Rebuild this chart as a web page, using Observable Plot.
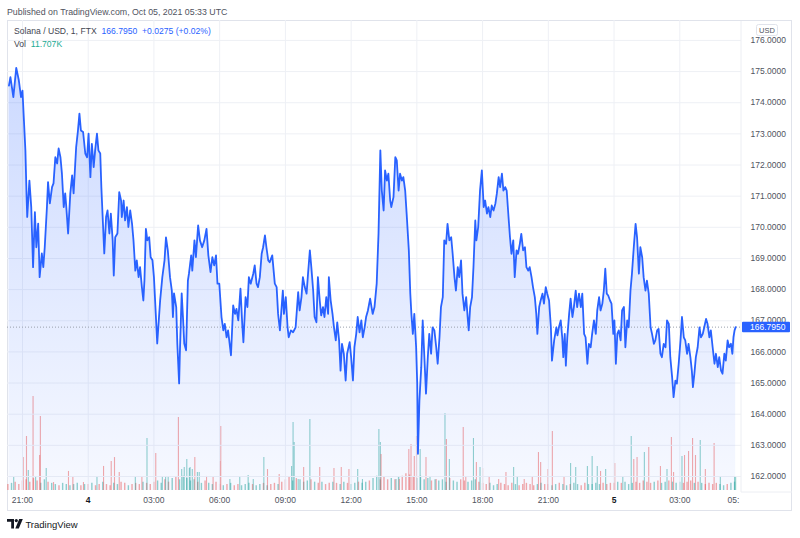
<!DOCTYPE html>
<html>
<head>
<meta charset="utf-8">
<script src="https://cdn.jsdelivr.net/npm/d3@7"></script>
<script src="https://cdn.jsdelivr.net/npm/@observablehq/plot@0.6"></script>
<style>
  html, body { margin: 0; padding: 0; background: #fff; }
  #page { position: relative; width: 800px; height: 538px; overflow: hidden; font-family: "Liberation Sans", Arial, sans-serif; }
  #page > svg { position: absolute; left: 0; top: 0; }
  .txt { position: absolute; white-space: nowrap; font-size: 8.6px; line-height: 12px; }
  #frame { position: absolute; left: 7px; top: 20px; width: 785px; height: 491px; border: 1px solid #e0e3eb; box-sizing: border-box; }
</style>
</head>
<body>
<div id="page">
  <div id="frame"></div>
</div>
<script>
// ---------- data ----------
const startUTC = Date.UTC(2021, 9, 3, 21, 0); // 2021-10-03 21:00 UTC, minutes below are offsets from it
const symbolTitle = "Solana / USD, 1, FTX";
const lastPrice = 166.795;
const lastChange = "+0.0275 (+0.02%)";
const lastVolume = "11.707K";
const publishedText = "Published on TradingView.com, Oct 05, 2021 05:33 UTC";

// [minute offset, price]
const priceSeries = [
[-37,174.55],[-33,174.82],[-25,174.18],[-17,175.12],[-10,174.72],[-4,174.18],[0,174.39],[4,173.43],[8,172.47],[11,171.09],
[13,170.33],[19,171.50],[24,170.65],[29,168.72],[34,170.49],[38,169.36],[43,170.12],[47,168.40],[53,169.16],[57,168.72],
[61,169.36],[67,170.65],[70,171.45],[75,170.77],[81,171.29],[85,171.41],[90,172.25],[95,172.05],[99,172.53],[104,172.25],
[108,171.73],[113,170.65],[117,171.09],[120,170.65],[125,169.80],[131,171.09],[136,171.67],[140,171.09],[147,172.57],[152,173.11],
[156,173.65],[160,173.11],[166,173.06],[172,172.37],[177,172.25],[181,173.01],[186,171.61],[190,172.68],[195,171.93],[199,172.47],
[204,173.01],[208,172.47],[213,172.37],[216,171.29],[220,170.22],[224,169.16],[229,170.33],[233,170.54],[238,169.80],[242,170.44],
[247,169.58],[250,168.45],[254,169.68],[260,169.80],[265,171.13],[270,170.86],[272,170.33],[277,170.86],[281,170.22],[286,170.65],
[290,170.01],[295,170.54],[300,170.12],[304,169.58],[309,168.61],[313,168.94],[318,168.40],[322,168.72],[327,168.08],[331,167.65],
[334,168.29],[338,169.95],[342,169.58],[347,169.68],[351,169.04],[356,168.94],[360,168.40],[365,167.23],[369,166.27],[372,166.79],
[377,167.65],[383,168.40],[389,168.94],[393,169.68],[398,169.26],[404,168.40],[409,167.97],[412,167.12],[415,167.88],[421,167.44],
[424,166.27],[429,164.99],[431,165.95],[436,167.88],[440,167.01],[443,166.27],[448,166.05],[453,168.29],[456,168.52],[462,169.10],
[465,168.61],[471,169.58],[475,169.04],[481,170.06],[486,169.58],[492,169.36],[498,169.58],[504,169.95],[509,169.10],[515,168.56],
[520,169.04],[525,168.78],[530,169.10],[534,168.19],[539,168.19],[545,167.12],[550,166.69],[554,166.90],[559,166.47],[563,166.69],
[571,165.89],[577,167.49],[582,167.22],[586,167.38],[591,167.01],[597,168.03],[602,166.85],[605,166.31],[611,167.76],[616,167.44],
[620,168.40],[625,168.19],[632,168.51],[636,168.78],[641,168.19],[645,168.08],[650,168.40],[655,169.15],[659,169.36],[664,169.74],
[668,169.36],[673,168.94],[677,168.88],[684,169.10],[691,168.19],[696,168.08],[700,167.22],[705,166.69],[709,167.33],[713,167.97],
[716,167.22],[721,167.76],[726,166.79],[729,166.47],[735,166.69],[741,166.63],[748,166.79],[755,167.92],[759,167.33],[764,167.76],
[768,168.40],[773,168.08],[778,167.87],[782,168.51],[787,169.26],[791,168.72],[796,167.97],[800,167.12],[805,166.95],[809,168.40],
[814,167.65],[818,167.17],[823,167.44],[827,167.12],[832,167.76],[837,167.22],[839,168.40],[844,167.65],[849,167.22],[853,166.79],
[858,166.37],[862,166.95],[867,166.37],[871,165.40],[875,166.26],[880,165.94],[885,165.08],[889,165.94],[896,166.31],[900,165.83],
[905,165.08],[909,166.15],[914,166.58],[918,167.12],[923,166.63],[928,167.01],[932,166.47],[937,166.79],[941,167.12],[946,167.33],
[952,167.71],[959,167.22],[964,167.44],[970,168.19],[975,169.79],[980,172.47],[984,171.18],[989,170.54],[993,171.83],[998,171.50],
[1002,171.72],[1007,170.86],[1010,170.65],[1016,170.97],[1021,172.25],[1025,172.15],[1030,171.18],[1034,171.72],[1039,171.50],[1043,171.61],
[1048,171.18],[1052,170.44],[1058,169.26],[1062,167.87],[1065,167.22],[1069,166.58],[1073,167.22],[1078,166.15],[1081,164.98],[1083,162.73],
[1087,164.44],[1092,165.51],[1096,167.01],[1101,165.72],[1105,164.66],[1110,165.83],[1114,166.58],[1119,165.94],[1123,166.79],[1128,166.69],
[1133,166.15],[1137,165.62],[1142,166.47],[1146,167.44],[1151,167.76],[1155,169.58],[1160,169.47],[1164,170.11],[1169,169.58],[1174,169.68],
[1178,169.15],[1183,168.40],[1187,167.97],[1192,168.72],[1196,168.40],[1201,168.94],[1205,167.87],[1210,167.33],[1215,167.76],[1219,167.12],
[1222,166.69],[1226,167.44],[1231,167.76],[1235,168.72],[1240,170.22],[1243,169.58],[1248,170.01],[1253,171.18],[1258,171.83],[1263,170.65],
[1267,170.86],[1272,170.44],[1276,170.65],[1281,170.33],[1285,170.70],[1290,170.54],[1295,170.76],[1299,171.08],[1304,171.61],[1308,171.29],
[1313,171.72],[1317,171.18],[1322,171.29],[1326,171.18],[1331,170.33],[1335,169.68],[1339,169.15],[1344,169.58],[1348,168.40],[1353,169.26],
[1357,169.15],[1362,169.47],[1366,169.79],[1371,169.26],[1376,169.36],[1380,168.72],[1385,168.61],[1389,168.72],[1394,168.40],[1398,168.08],
[1403,167.76],[1407,167.22],[1410,166.58],[1415,167.44],[1419,167.65],[1424,167.87],[1428,167.55],[1433,168.08],[1437,167.87],[1442,167.65],
[1447,166.79],[1450,165.72],[1456,166.37],[1462,166.79],[1465,166.53],[1469,166.79],[1474,167.01],[1478,166.47],[1481,165.83],[1485,166.58],
[1488,165.56],[1492,166.47],[1497,167.22],[1501,167.71],[1506,167.12],[1510,167.44],[1515,167.97],[1519,167.44],[1524,167.87],[1529,167.44],
[1533,167.87],[1538,166.58],[1542,166.47],[1547,165.62],[1551,166.26],[1556,166.15],[1560,166.58],[1565,167.01],[1570,166.58],[1574,167.33],
[1579,167.76],[1583,167.33],[1588,167.55],[1592,167.97],[1596,168.67],[1600,167.87],[1604,167.81],[1609,167.65],[1613,167.55],[1618,166.58],
[1621,167.01],[1625,165.62],[1629,166.58],[1633,166.69],[1638,166.37],[1642,167.33],[1647,167.44],[1651,166.15],[1656,167.01],[1660,166.79],
[1665,167.97],[1669,168.51],[1674,169.36],[1679,170.11],[1683,169.68],[1688,168.51],[1692,169.36],[1697,169.04],[1701,168.40],[1706,167.97],
[1710,168.29],[1715,167.87],[1720,166.79],[1724,166.58],[1729,166.26],[1733,166.37],[1738,166.69],[1742,166.74],[1747,165.94],[1751,165.83],
[1756,166.26],[1761,166.15],[1765,167.01],[1770,166.90],[1774,165.83],[1779,165.19],[1783,164.55],[1788,165.08],[1792,164.98],[1797,165.62],
[1802,166.37],[1806,167.12],[1811,166.47],[1815,166.37],[1820,165.94],[1824,166.26],[1829,165.83],[1833,165.40],[1836,164.87],[1840,165.30],
[1844,165.83],[1849,166.15],[1854,166.79],[1858,166.47],[1863,166.58],[1867,166.79],[1872,167.06],[1876,166.90],[1881,166.47],[1885,166.69],
[1890,166.15],[1895,165.62],[1899,165.94],[1904,165.51],[1908,165.83],[1913,165.40],[1917,165.30],[1922,165.94],[1926,165.72],[1931,166.37],
[1935,166.15],[1940,166.26],[1944,165.94],[1947,166.47],[1950,166.69],[1953,166.795]
];

// larger volume spikes: [minute offset, volume (thousands), "u" up / "d" down]
const volumeSpikes = [
[-24,10.9,"u"],[2,27.7,"d"],[11,45.4,"d"],[16,16.8,"u"],[29,79,"d"],[36,11.8,"u"],[47,29.4,"d"],[49,62.2,"d"],[65,18.5,"u"],[85,6.7,"d"],
[126,16,"d"],[138,11.8,"d"],[167,6.7,"d"],[204,11.8,"u"],[222,20.2,"d"],[243,24.4,"d"],[252,27.7,"d"],[265,15.1,"d"],[309,11.8,"u"],[327,11.8,"d"],
[341,43.7,"u"],[365,31.1,"d"],[383,11.8,"u"],[392,10.9,"u"],[399,11.8,"u"],[427,61.3,"d"],[436,17.6,"u"],[443,19.3,"u"],[450,26,"u"],[457,18.5,"u"],
[459,19.3,"u"],[465,17.6,"u"],[472,27.7,"d"],[479,15.1,"u"],[484,15.1,"u"],[504,11.8,"d"],[522,10.9,"d"],[541,24.4,"d"],[543,53.8,"d"],[568,9.2,"u"],
[595,11.8,"u"],[618,12.6,"u"],[632,9.2,"u"],[661,27.7,"u"],[671,17.6,"d"],[703,13.4,"d"],[737,20.2,"u"],[741,57.1,"u"],[744,40.3,"u"],[755,9.2,"u"],
[770,19.3,"d"],[787,59.6,"u"],[814,19.3,"d"],[853,18.5,"d"],[873,19.3,"d"],[894,17.6,"d"],[918,17.6,"u"],[931,9.2,"u"],[976,51.2,"u"],[980,40.3,"u"],
[982,30.2,"d"],[1023,9.2,"u"],[1032,9.2,"d"],[1058,34.4,"d"],[1064,38.6,"d"],[1073,28.6,"d"],[1079,45.4,"d"],[1089,34.4,"u"],[1105,27.7,"d"],[1116,11.8,"u"],
[1133,9.2,"d"],[1157,64.7,"u"],[1161,42.8,"d"],[1169,26,"u"],[1207,52.9,"d"],[1214,11.8,"d"],[1235,43.7,"u"],[1243,23.5,"d"],[1253,19.3,"u"],[1260,18.5,"d"],
[1278,11.8,"d"],[1304,9.2,"d"],[1324,15.1,"d"],[1345,19.3,"u"],[1355,11.8,"u"],[1374,9.2,"d"],[1396,11.8,"d"],[1413,31.9,"d"],[1419,23.5,"d"],[1439,17.6,"d"],
[1451,49.6,"d"],[1483,10.9,"d"],[1501,22.7,"u"],[1515,19.3,"u"],[1547,20.2,"u"],[1560,28.6,"u"],[1574,20.2,"u"],[1583,16,"d"],[1597,17.6,"u"],[1622,22.7,"d"],
[1644,11.8,"u"],[1667,45.4,"u"],[1674,26,"d"],[1683,27.7,"d"],[1703,31.9,"u"],[1715,36.1,"d"],[1747,20.2,"d"],[1765,17.6,"u"],[1777,44.5,"d"],[1783,15.1,"d"],
[1806,28.6,"u"],[1813,29.4,"d"],[1824,32.8,"d"],[1835,43.7,"d"],[1843,29.4,"d"],[1856,42,"u"],[1870,17.6,"d"],[1894,39.5,"d"],[1911,11.8,"u"],[1950,11.8,"u"],
[1953,11.707,"u"]
];

// background volume level, one reading every 10 minutes from minute -40 (thousands)
const minorVolumeStart = -40;
const minorVolumeStep = 10;
const minorVolumes = [
5,6,7,5,
8,9,7,10,8,6,9,7,6,
5,4,6,5,4,5,6,4,5,
5,6,4,5,7,5,4,6,5,7,6,4,5,6,5,7,6,5,
7,8,6,9,7,10,11,9,12,10,8,9,
7,6,8,6,5,7,
5,4,5,6,4,5,4,5,6,5,4,5,6,4,5,6,5,7,
9,11,8,10,9,7,8,9,7,
6,7,5,6,7,6,5,7,6,5,6,7,6,7,8,
10,12,9,11,9,10,
9,11,12,14,13,11,10,12,9,10,8,9,
8,9,7,10,8,7,9,8,7,8,9,7,
6,5,6,4,5,6,5,4,6,5,4,5,6,5,4,5,6,5,
5,4,5,6,5,4,5,6,5,4,6,5,5,6,5,6,5,6,
6,7,6,7,5,6,7,6,8,7,6,7,8,6,7,8,7,6,
7,6,7,8,6,7,6,5,6,5,6,5,4,5,6,7
];

// time-axis ticks: [minute offset, label, bold]
const timeTicks = [
[0,"21:00",false],[180,"4",true],[360,"03:00",false],[540,"06:00",false],[720,"09:00",false],[900,"12:00",false],
[1080,"15:00",false],[1260,"18:00",false],[1440,"21:00",false],[1620,"5",true],[1800,"03:00",false],[1947,"05:",false]
];
const gridMinutes = [0,180,360,540,720,900,1080,1260,1440,1620,1800];
const priceTicks = [162,163,164,165,166,167,168,169,170,171,172,173,174,175,176];
const xDomainMinutes = [-41, 1969];
const yDomain = [161.55, 176.64];
const volDomain = [0, 395];

// ---------- build ----------
const UP = "rgba(38,166,154,0.5)", DOWN = "rgba(239,83,80,0.5)";
const toDate = m => new Date(startUTC + m * 60000);
const prices = priceSeries.map(([m, p]) => ({t: toDate(m), p}));
const bis = d3.bisector(d => d[0]).left;
const priceAt = m => { const i = Math.min(priceSeries.length - 1, Math.max(0, bis(priceSeries, m))); return priceSeries[i][1]; };
const minor = minorVolumes.map((v, i) => {
  const m = minorVolumeStart + i * minorVolumeStep;
  return {t: toDate(m), v, c: priceAt(m + minorVolumeStep) >= priceAt(m) ? UP : DOWN};
});
const vols = volumeSpikes.map(([m, v, s]) => ({t: toDate(m), v, c: s === "u" ? UP : DOWN}));
const ticks = timeTicks.map(([m, label, bold]) => ({t: toDate(m), label, bold}));
const grid = gridMinutes.map(toDate);

const W = 800, H = 538;
const margins = {marginTop: 20, marginRight: 59, marginBottom: 48, marginLeft: 7};
const xScale = {type: "utc", domain: xDomainMinutes.map(toDate), axis: null};
const FONT = "Liberation Sans, Arial, sans-serif";
const baseStyle = {fontFamily: FONT, fontSize: "8.5px", background: "transparent", overflow: "visible"};

const pricePlot = Plot.plot({
  width: W, height: H, ...margins,
  x: xScale,
  y: {domain: yDomain},
  style: {...baseStyle, color: "#50535e"},
  marks: [
    Plot.gridX(grid, {stroke: "#eef0f5", strokeOpacity: 1}),
    Plot.gridY(priceTicks, {stroke: "#eef0f5", strokeOpacity: 1}),
    Plot.areaY(prices, {x: "t", y1: yDomain[0], y2: "p", fill: "url(#priceGrad)", curve: "linear"}),
    Plot.ruleY([lastPrice], {stroke: "#9aa0ad", strokeDasharray: "1,2", strokeWidth: 1}),
    Plot.lineY(prices, {x: "t", y: "p", stroke: "#2962ff", strokeWidth: 1.8, curve: "linear"}),
    Plot.axisY({anchor: "right", ticks: priceTicks, tickFormat: d => d.toFixed(4), tickSize: 0, tickPadding: 9, label: null, fill: "#50535e"}),
    Plot.text(ticks, {filter: d => !d.bold, x: "t", text: "label", frameAnchor: "bottom", dy: 12, fill: "#50535e", fontSize: 8.5}),
    Plot.text(ticks, {filter: d => d.bold, x: "t", text: "label", frameAnchor: "bottom", dy: 12, fill: "#131722", fontSize: 8.5, fontWeight: "bold"})
  ]
});

const volPlot = Plot.plot({
  width: W, height: H, ...margins,
  x: xScale,
  y: {domain: volDomain, axis: null},
  color: {type: "identity"},
  style: baseStyle,
  marks: [
    Plot.ruleX(minor, {x: "t", y1: 0, y2: "v", stroke: "c", strokeWidth: 1.4}),
    Plot.ruleX(vols, {x: "t", y1: 0, y2: "v", stroke: "c", strokeWidth: 1.1})
  ]
});

// gradient for the area
const svgSel = d3.select(pricePlot);
const defs = svgSel.insert("defs", ":first-child");
const grad = defs.append("linearGradient").attr("id", "priceGrad")
  .attr("gradientUnits", "userSpaceOnUse").attr("x1", 0).attr("x2", 0).attr("y1", 20).attr("y2", 490);
grad.append("stop").attr("offset", "0%").attr("stop-color", "#2962ff").attr("stop-opacity", 0.26);
grad.append("stop").attr("offset", "100%").attr("stop-color", "#2962ff").attr("stop-opacity", 0.04);

// axis separators
svgSel.append("line").attr("x1", 741).attr("x2", 741).attr("y1", 21).attr("y2", 492).attr("stroke", "#eceef3");
svgSel.append("line").attr("x1", 741).attr("x2", 792).attr("y1", 492).attr("y2", 492).attr("stroke", "#eceef3");

// last price label, positioned by the y scale
const yLast = pricePlot.scale("y").apply(lastPrice);
svgSel.append("rect").attr("x", 742).attr("y", yLast - 5).attr("width", 48).attr("height", 10.5).attr("rx", 1).attr("fill", "#2962ff");
svgSel.append("text").attr("x", 750).attr("y", yLast + 0.3).attr("dy", "0.35em").attr("fill", "#fff").attr("text-anchor", "start")
  .attr("font-size", 8.5).attr("font-family", FONT).text(lastPrice.toFixed(4));

// USD badge
svgSel.append("rect").attr("x", 756.5).attr("y", 24.5).attr("width", 21).attr("height", 11).attr("rx", 2)
  .attr("fill", "#fff").attr("stroke", "#e0e3eb");
svgSel.append("text").attr("x", 767).attr("y", 30).attr("dy", "0.35em").attr("text-anchor", "middle")
  .attr("fill", "#50535e").attr("font-size", 7.5).attr("font-family", FONT).text("USD");

const page = document.getElementById("page");
page.appendChild(volPlot);
page.appendChild(pricePlot);

// text overlays
function addText(html, left, top, extra) {
  const d = document.createElement("div");
  d.className = "txt";
  d.style.left = left + "px";
  d.style.top = top + "px";
  if (extra) Object.assign(d.style, extra);
  d.innerHTML = html;
  page.appendChild(d);
}
addText(publishedText, 7, 6, {color: "#50535e", fontSize: "8.8px"});
addText(`<span style="color:#434651">${symbolTitle}</span>&nbsp; <span style="color:#2962ff">${lastPrice.toFixed(4)}</span>&nbsp; <span style="color:#2962ff">${lastChange}</span>`, 14, 25);
addText(`<span style="color:#434651">Vol</span>&nbsp; <span style="color:#22ab94">${lastVolume}</span>`, 14, 38);
addText(`<svg width="16" height="10" viewBox="0 0 16 10" style="vertical-align:-1px"><path d="M0 0h7v9.5H4.2V2.7H0z" fill="#131722"/><circle cx="9.3" cy="1.6" r="1.6" fill="#131722"/><path d="M12.2 0h3.6l-4 9.5H8.3z" fill="#131722"/></svg> <span style="color:#131722;font-size:9.5px">TradingView</span>`, 7, 519);
</script>
</body>
</html>
